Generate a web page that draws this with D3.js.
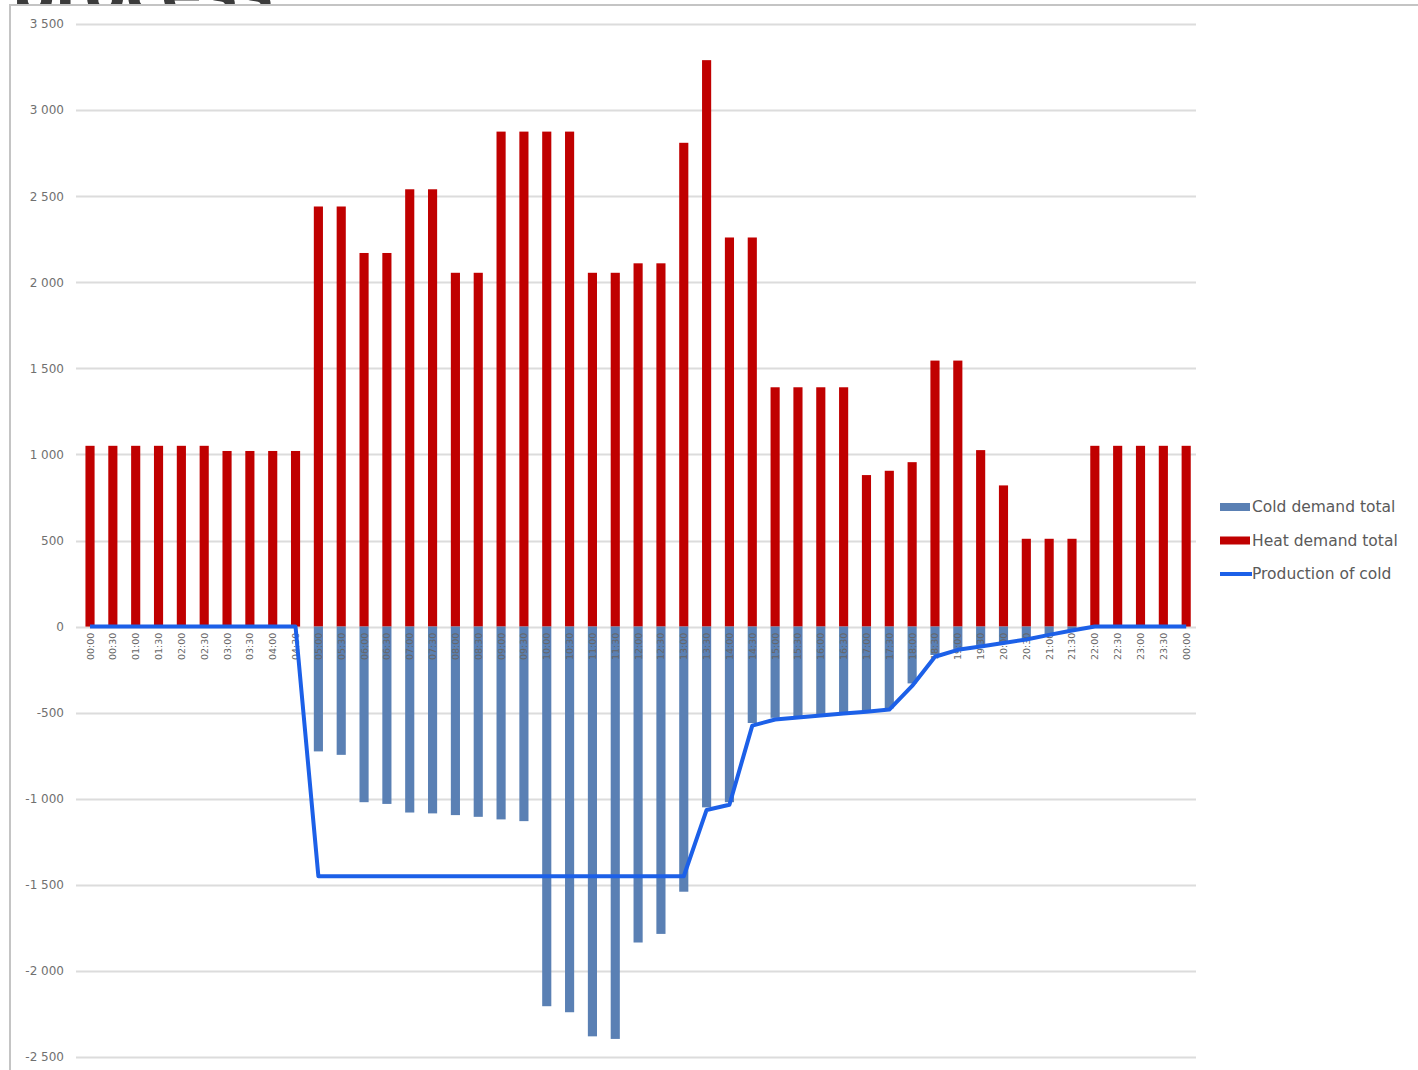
<!DOCTYPE html>
<html>
<head>
<meta charset="utf-8">
<script src="https://cdn.jsdelivr.net/npm/d3@7"></script>
<style>
  html, body { margin: 0; padding: 0; background: #fff; }
  svg { display: block; }
</style>
</head>
<body>
<svg id="chart" width="1418" height="1070"></svg>
<script>
// Half-hourly time slots over one day
const times = [
  "00:00","00:30","01:00","01:30","02:00","02:30","03:00","03:30","04:00","04:30",
  "05:00","05:30","06:00","06:30","07:00","07:30","08:00","08:30","09:00","09:30",
  "10:00","10:30","11:00","11:30","12:00","12:30","13:00","13:30","14:00","14:30",
  "15:00","15:30","16:00","16:30","17:00","17:30","18:00","18:30","19:00","19:30",
  "20:00","20:30","21:00","21:30","22:00","22:30","23:00","23:30","00:00"
];

// Heat demand total (positive)
const heatDemand = [
  1050, 1050, 1050, 1050, 1050, 1050, 1020, 1020, 1020, 1020,
  2440, 2440, 2170, 2170, 2540, 2540, 2055, 2055, 2875, 2875,
  2875, 2875, 2055, 2055, 2110, 2110, 2810, 3290, 2260, 2260,
  1390, 1390, 1390, 1390, 880, 905, 955, 1545, 1545, 1025,
  820, 510, 510, 510, 1050, 1050, 1050, 1050, 1050
];

// Cold demand total (negative)
const coldDemand = [
  0, 0, 0, 0, 0, 0, 0, 0, 0, 0,
  -725, -745, -1020, -1030, -1080, -1085, -1095, -1105, -1120, -1130,
  -2205, -2240, -2380, -2395, -1835, -1785, -1540, -1050, -1020, -560,
  -530, -520, -510, -500, -490, -475, -330, -165, -130, -110,
  -90, -70, -45, -20, 0, 0, 0, 0, 0
];

// Production of cold (line)
const coldProduction = [
  0, 0, 0, 0, 0, 0, 0, 0, 0, 0,
  -1450, -1450, -1450, -1450, -1450, -1450, -1450, -1450, -1450, -1450,
  -1450, -1450, -1450, -1450, -1450, -1450, -1450, -1065, -1035, -575,
  -540, -528, -517, -505, -494, -482, -345, -175, -135, -116,
  -95, -75, -48, -23, 0, 0, 0, 0, 0
];

const yTicks = [-2500, -2000, -1500, -1000, -500, 0, 500, 1000, 1500, 2000, 2500, 3000, 3500];

const seriesNames = ["Cold demand total", "Heat demand total", "Production of cold"];
const colors = { cold: "#5a80b4", heat: "#c00000", line: "#1c60e8" };

const svg = d3.select("#chart");

// Slide title, mostly hidden behind the chart panel
svg.append("text")
  .attr("x", 12).attr("y", 14)
  .attr("font-family", "DejaVu Sans").attr("font-weight", "bold")
  .attr("font-size", 60).attr("fill", "#3b3b3b")
  .text("process");

// Chart panel
svg.append("rect")
  .attr("x", 10).attr("y", 5).attr("width", 1420).attr("height", 1080)
  .attr("fill", "#fff").attr("stroke", "#c4c4c4").attr("stroke-width", 2);

const x = d3.scaleBand().domain(d3.range(times.length)).range([78.6, 1197.6]).paddingInner(0.6).paddingOuter(0.3);
const y = d3.scaleLinear().domain([-2500, 3500]).range([1057, 24]);
const cx = i => x(i) + x.bandwidth() / 2;

// Gridlines
svg.append("g").selectAll("line").data(yTicks).join("line")
  .attr("x1", 76).attr("x2", 1196)
  .attr("y1", d => Math.round(y(d)) + 0.5).attr("y2", d => Math.round(y(d)) + 0.5)
  .attr("stroke", "#dcdcdc").attr("stroke-width", 2);

// Y axis labels, space as thousands separator
const yAxis = d3.axisLeft(y).tickValues(yTicks).tickSize(0).tickPadding(0)
  .tickFormat(d => d3.format(",")(d).replace(/,/g, " ").replace("\u2212", "-"));
const gy = svg.append("g").attr("transform", "translate(64,0)").call(yAxis);
gy.select(".domain").remove();
gy.selectAll("text").attr("font-family", "DejaVu Sans").attr("font-size", 12).attr("fill", "#707070");

// Heat bars
svg.append("g").selectAll("rect").data(heatDemand).join("rect")
  .attr("x", (d, i) => x(i)).attr("width", x.bandwidth())
  .attr("y", d => y(d)).attr("height", d => y(0) - y(d))
  .attr("fill", colors.heat);

// Cold bars
svg.append("g").selectAll("rect").data(coldDemand).join("rect")
  .attr("x", (d, i) => x(i)).attr("width", x.bandwidth())
  .attr("y", y(0)).attr("height", d => y(d) - y(0))
  .attr("fill", colors.cold);

// Category labels (rotated, just under the zero line)
svg.append("g").selectAll("text").data(times).join("text")
  .attr("transform", (d, i) => `translate(${cx(i) + 3.5},${y(0) + 6}) rotate(-90)`)
  .attr("text-anchor", "end")
  .attr("font-family", "DejaVu Sans").attr("font-size", 9.5).attr("fill", "#666")
  .text(d => d);

// Production of cold line
const line = d3.line().x((d, i) => cx(i)).y(d => y(d));
svg.append("path").datum(coldProduction)
  .attr("d", line).attr("fill", "none")
  .attr("stroke", colors.line).attr("stroke-width", 4).attr("stroke-linejoin", "round");

// Legend
const legend = svg.append("g").attr("transform", "translate(1220,507)");
seriesNames.forEach((name, k) => {
  const g = legend.append("g").attr("transform", `translate(0,${k * 33.5})`);
  if (k === 0) g.append("rect").attr("x", 0).attr("y", -4).attr("width", 30).attr("height", 8).attr("fill", colors.cold);
  if (k === 1) g.append("rect").attr("x", 0).attr("y", -4).attr("width", 30).attr("height", 8).attr("fill", colors.heat);
  if (k === 2) g.append("line").attr("x1", 0).attr("x2", 32).attr("y1", 0).attr("y2", 0).attr("stroke", colors.line).attr("stroke-width", 4);
  g.append("text").attr("x", 32).attr("y", 5)
    .attr("font-family", "DejaVu Sans").attr("font-size", 15.5).attr("fill", "#5a5a5a")
    .text(name);
});
</script>
</body>
</html>
